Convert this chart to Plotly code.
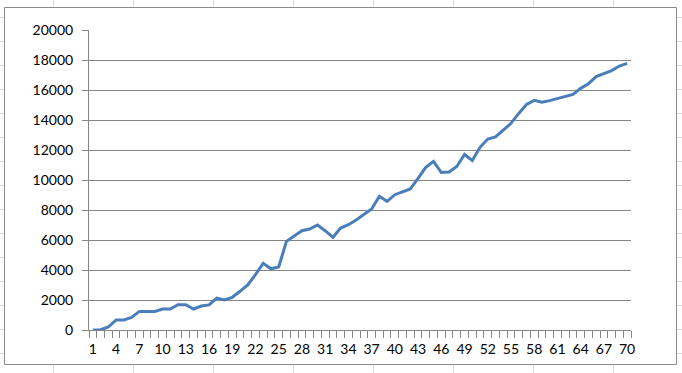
import plotly.graph_objects as go

# ---- data ----
x_values = list(range(1, 71))
y_values = [0, 20, 200, 670, 670, 840, 1240, 1240, 1240, 1400,
            1400, 1690, 1690, 1400, 1600, 1670, 2130, 2000, 2180, 2580,
            3000, 3690, 4450, 4080, 4200, 5910, 6240, 6620, 6730, 7000,
            6620, 6180, 6800, 7020, 7330, 7730, 8070, 8910, 8580, 9020,
            9200, 9400, 10110, 10840, 11240, 10500, 10530, 10900, 11700, 11300,
            12180, 12730, 12870, 13330, 13780, 14440, 15040, 15310, 15180, 15290,
            15420, 15600, 15710, 16110, 16420, 16890, 17110, 17290, 17600, 17780]
x_tick_labels = list(range(1, 71, 3))
y_tick_values = list(range(0, 20001, 2000))

# ---- layout geometry (pixels) ----
W, H = 682, 373
L, R, T, B = 89, 631, 30, 330
PW, PH = R - L, B - T

def px(x):
    return (x - L) / PW

def py(y):
    return (B - y) / PH

shapes = []
sheet_col = "#d9dbde"
for k in range(9):
    xx = 53.5 + 80 * k
    shapes.append(dict(type="line", xref="paper", yref="paper", layer="below",
                       x0=px(xx), x1=px(xx), y0=py(0), y1=py(H),
                       line=dict(color=sheet_col, width=1)))
for k in range(16):
    yy = 17.5 + 24 * k
    shapes.append(dict(type="line", xref="paper", yref="paper", layer="below",
                       x0=px(0), x1=px(W), y0=py(yy), y1=py(yy),
                       line=dict(color=sheet_col, width=1)))
shapes.append(dict(type="rect", xref="paper", yref="paper", layer="below",
                   x0=px(4.5), x1=px(676.5), y0=py(364.5), y1=py(7.5),
                   fillcolor="white", line=dict(color="#8a8a8a", width=1)))

grid = "#868686"
fig = go.Figure()
fig.add_trace(go.Scatter(x=x_values, y=y_values, mode="lines",
                         line=dict(color="#4A7EBB", width=3),
                         hoverinfo="skip"))

fig.update_layout(
    width=W, height=H,
    margin=dict(l=L, r=W - R, t=T, b=H - B, pad=0),
    paper_bgcolor="white",
    plot_bgcolor="rgba(0,0,0,0)",
    showlegend=False,
    font=dict(family="Lato", size=14, color="black"),
    shapes=shapes,
    xaxis=dict(
        range=[0.5, 70.5], tickmode="array", tickvals=x_tick_labels,
        ticktext=[str(v) for v in x_tick_labels],
        showgrid=False, zeroline=False, showline=True, linecolor=grid,
        linewidth=1, ticks="", ticklabelstandoff=6,
        minor=dict(ticks="outside", ticklen=7, tickcolor=grid,
                   tick0=0.5, dtick=1, showgrid=False),
        fixedrange=True,
    ),
    yaxis=dict(
        range=[0, 20000], tickmode="array", tickvals=y_tick_values,
        tickformat="d", showgrid=True, gridcolor=grid, gridwidth=1,
        zeroline=False, showline=True, linecolor=grid, linewidth=1,
        ticks="outside", ticklen=6, tickcolor=grid, ticklabelstandoff=6,
        fixedrange=True,
    ),
)

fig.write_html("out.html")
